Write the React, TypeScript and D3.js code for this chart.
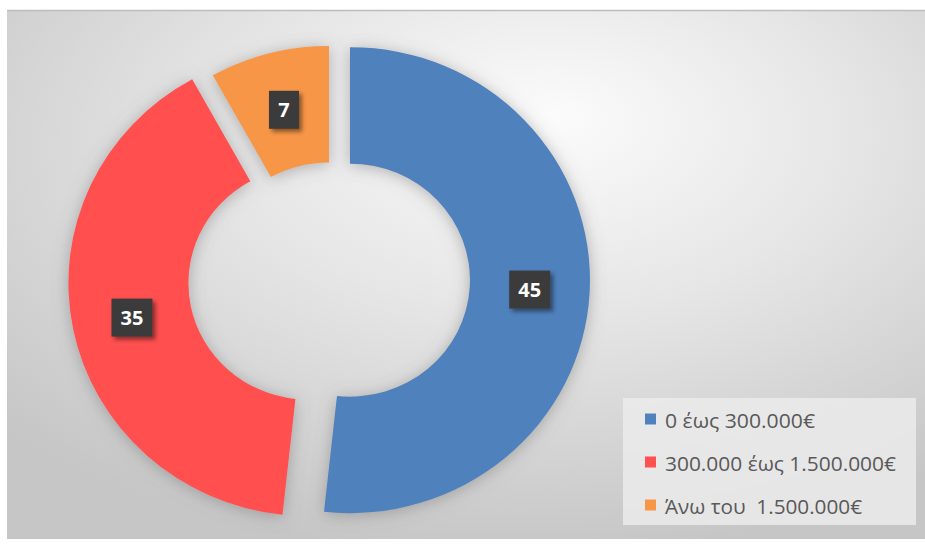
import React from 'react';
import * as d3 from 'd3';

const categories = ['0 έως 300.000€', '300.000 έως 1.500.000€', 'Άνω του  1.500.000€'];
const values = [45, 35, 7];
const colors = ['#4f81bd', '#ff4f4f', '#f79646'];
const explode = [21, 21, 0];
const legendTextWidths = [150, 231, 197];

export default function App() {
  const W = 925, H = 548;
  const cx = 329, cy = 279;
  const R = 233, r = 116.5, sx = 1.03;
  const pie = d3.pie<number>().sort(null).value(d => d).startAngle(0).endAngle(2 * Math.PI)(values);
  const arc = d3.arc<d3.PieArcDatum<number>>().innerRadius(r).outerRadius(R);

  const legendX = 623, legendY = 398, legendW = 293, legendH = 127;
  const rowY = [419, 462, 505];

  return (
    <svg width={W} height={H} style={{ position: 'absolute', left: 0, top: 0 }}>
      <defs>
        <radialGradient id="bg" cx="0.55" cy="0.28" r="0.75" fx="0.6" fy="0.2">
          <stop offset="0" stopColor="#fbfbfb" />
          <stop offset="0.45" stopColor="#e6e6e6" />
          <stop offset="1" stopColor="#c6c6c6" />
        </radialGradient>
        <filter id="sh" x="-30%" y="-30%" width="160%" height="160%">
          <feDropShadow dx="0" dy="2" stdDeviation="8" floodColor="#707070" floodOpacity="0.5" />
        </filter>
        <filter id="lsh" x="-40%" y="-40%" width="180%" height="180%">
          <feDropShadow dx="3" dy="3" stdDeviation="2" floodColor="#000" floodOpacity="0.45" />
        </filter>
      </defs>
      <rect x={0} y={0} width={W} height={H} fill="#ffffff" />
      <rect x={7} y={10} width={W - 7} height={529} fill="url(#bg)" />
      <line x1={7} x2={W} y1={10.5} y2={10.5} stroke="#bdbdbd" strokeWidth={1.5} />

      {pie.map((p, i) => {
        const mid = (p.startAngle + p.endAngle) / 2;
        const dx = explode[i] * Math.sin(mid);
        const dy = -explode[i] * Math.cos(mid);
        return (
          <g key={'s' + i} transform={`translate(${cx + dx},${cy + dy}) scale(${sx},1)`} filter="url(#sh)">
            <path d={arc(p) || ''} fill={colors[i]} />
          </g>
        );
      })}

      {pie.map((p, i) => {
        const mid = (p.startAngle + p.endAngle) / 2;
        const dx = explode[i] * Math.sin(mid);
        const dy = -explode[i] * Math.cos(mid);
        const c = arc.centroid(p);
        const x = cx + dx + c[0] * sx;
        const y = cy + dy + c[1];
        const txt = String(values[i]);
        const bw = txt.length > 1 ? 41 : 30;
        const bh = 38;
        return (
          <g key={'l' + i}>
            <rect x={x - bw / 2} y={y - bh / 2} width={bw} height={bh} fill="#3b3b3b" filter="url(#lsh)" />
            <text x={x} y={y} textAnchor="middle" dominantBaseline="central" fill="#ffffff"
              fontFamily="'Open Sans', 'DejaVu Sans', sans-serif" fontWeight={700} fontSize={20}>{txt}</text>
          </g>
        );
      })}

      <rect x={legendX} y={legendY} width={legendW} height={legendH} fill="#ebebeb" fillOpacity={0.85} />
      {categories.map((c, i) => (
        <g key={'g' + i}>
          <rect x={645} y={rowY[i] - 5.5} width={11} height={11} fill={colors[i]} />
          <text x={665} y={rowY[i] + 1} dominantBaseline="central" fill="#595959"
            fontFamily="'Open Sans', 'Noto Sans', sans-serif" fontSize={20}
            textLength={legendTextWidths[i]} lengthAdjust="spacingAndGlyphs"
            style={{ whiteSpace: 'pre' }}>{c}</text>
        </g>
      ))}
    </svg>
  );
}
